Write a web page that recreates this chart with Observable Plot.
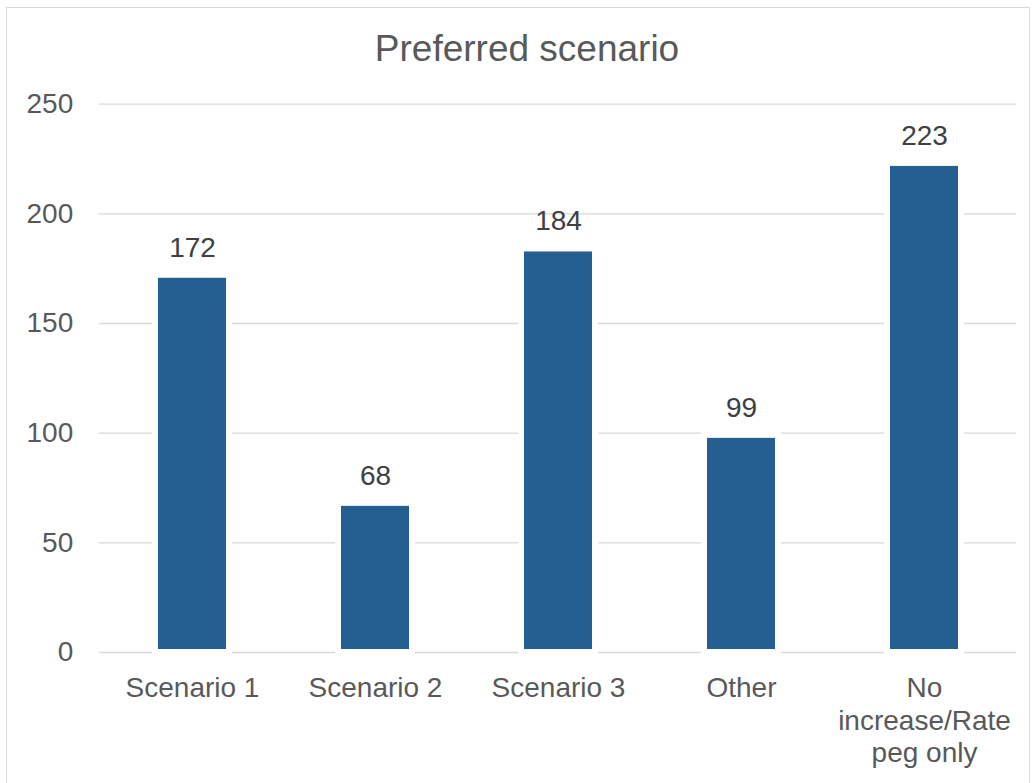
<!DOCTYPE html>
<html>
<head>
<meta charset="utf-8">
<script src="https://cdn.jsdelivr.net/npm/d3@7"></script>
<script src="https://cdn.jsdelivr.net/npm/@observablehq/plot@0.6"></script>
<style>
  body { margin: 0; background: #fff; font-family: "Liberation Sans", Arial, sans-serif; }
  #wrap { position: relative; width: 1036px; height: 783px; overflow: hidden; }
  #frame { position: absolute; left: 6px; top: 7px; width: 1022px; height: 820px;
           border: 1.5px solid #d9d9d9; pointer-events: none; }
  #title { height: 50px; padding-top: 30px; line-height: 37px; font-size: 37px;
           color: #595959; text-align: center; width: 1000px; margin-left: 27px; }
</style>
</head>
<body>
<div id="wrap">
  <div id="frame"></div>
  <div id="title">Preferred scenario</div>
  <div id="chart"></div>
</div>
<script>
// Survey responses: number of respondents preferring each scenario
const categories = ["Scenario 1", "Scenario 2", "Scenario 3", "Other", "No increase/Rate peg only"];
const counts = [172, 68, 184, 99, 223];
const tickLabels = ["Scenario 1", "Scenario 2", "Scenario 3", "Other", "No\nincrease/Rate\npeg only"];
const yTicks = [0, 50, 100, 150, 200, 250];

const data = categories.map((category, i) => ({category, count: counts[i]}));

const chart = Plot.plot({
  width: 1036,
  height: 703,
  marginLeft: 98.75,
  marginRight: 19.75,
  marginTop: 23.7,
  marginBottom: 131,
  style: {
    background: "transparent",
    overflow: "visible",
    color: "#595959",
    fontFamily: "'Liberation Sans', Arial, sans-serif"
  },
  x: {domain: categories, paddingInner: 0.597, paddingOuter: 0.2985, label: null},
  y: {domain: [0, 250], label: null},
  marks: [
    Plot.gridY(yTicks, {stroke: "#d9d9d9", strokeOpacity: 1, strokeWidth: 1.3}),
    Plot.barY(data, {x: "category", y: "count", fill: "#255e91", stroke: "#ffffff", strokeWidth: 6}),
    Plot.text(data, {
      x: "category", y: "count", text: d => String(d.count),
      lineAnchor: "bottom", dy: -18.6, fontSize: 28, fill: "#404040"
    }),
    Plot.axisX({
      tickSize: 0, tickPadding: 22, fontSize: 28, lineHeight: 1.15, label: null,
      tickFormat: d => tickLabels[categories.indexOf(d)]
    }),
    Plot.axisY(yTicks, {tickSize: 0, tickPadding: 26, fontSize: 28, label: null})
  ]
});

document.getElementById("chart").appendChild(chart);
</script>
</body>
</html>
